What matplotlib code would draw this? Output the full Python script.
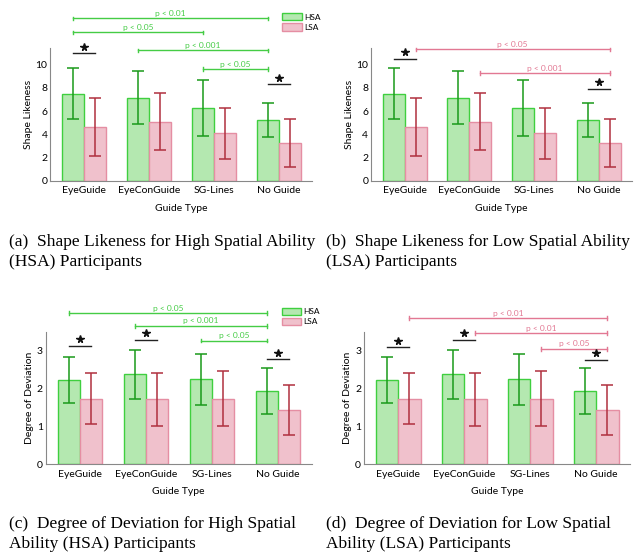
import matplotlib
matplotlib.use("Agg")
import matplotlib.pyplot as plt
from matplotlib.patches import Patch
import numpy as np

plt.rcParams['font.family'] = ['Lato', 'DejaVu Sans']

guides = ["EyeGuide", "EyeConGuide", "SG-Lines", "No Guide"]
groups = ["HSA", "LSA"]

# shape likeness (mean, sd), HSA / LSA
shape_hsa = [7.5, 7.15, 6.25, 5.25]
shape_hsa_sd = [2.2, 2.25, 2.4, 1.45]
shape_lsa = [4.6, 5.1, 4.1, 3.25]
shape_lsa_sd = [2.5, 2.45, 2.2, 2.05]

# degree of deviation (mean, sd)
dev_hsa = [2.23, 2.38, 2.25, 1.94]
dev_hsa_sd = [0.6, 0.64, 0.67, 0.62]
dev_lsa = [1.74, 1.72, 1.73, 1.44]
dev_lsa_sd = [0.67, 0.7, 0.73, 0.66]

# brackets: (guide_from, guide_to, series, label, level)
shape_hsa_brackets = [(0, 3, 0, "p < 0.01", 13.95), (0, 2, 0, "p < 0.05", 12.75),
                      (1, 3, 0, "p < 0.001", 11.2), (2, 3, 0, "p < 0.05", 9.6)]
shape_hsa_stars = [(0, 10.95), (3, 8.3)]
shape_lsa_brackets = [(0, 3, 1, "p < 0.05", 11.3), (1, 3, 1, "p < 0.001", 9.25)]
shape_lsa_stars = [(0, 10.5), (3, 7.9)]
dev_hsa_brackets = [(0, 3, 0, "p < 0.05", 4.0), (1, 3, 0, "p < 0.001", 3.66),
                    (2, 3, 0, "p < 0.05", 3.27)]
dev_hsa_stars = [(0, 3.13), (1, 3.3), (3, 2.78)]
dev_lsa_brackets = [(0, 3, 1, "p < 0.01", 3.87), (1, 3, 1, "p < 0.01", 3.47),
                    (2, 3, 1, "p < 0.05", 3.05)]
dev_lsa_stars = [(0, 3.1), (1, 3.29), (3, 2.76)]

GREEN_FACE = "#b4e8b0"
GREEN_EDGE = "#3fcf3f"
GREEN_ERR = "#1a9a1a"
PINK_FACE = "#f0c1cc"
PINK_EDGE = "#e58ea3"
PINK_ERR = "#b0303f"
BR_COLORS = ["#45cc45", "#e27893"]
W = 0.34


def draw_panel(ax, hsa, hsa_sd, lsa, lsa_sd, ylabel, ylim, yticks, brackets, stars, legend_y=None):
    x = np.arange(len(guides))
    ax.bar(x - W/2, hsa, W, color=GREEN_FACE, edgecolor=GREEN_EDGE, linewidth=1.0, label="HSA")
    ax.bar(x + W/2, lsa, W, color=PINK_FACE, edgecolor=PINK_EDGE, linewidth=1.0, label="LSA")
    ax.errorbar(x - W/2, hsa, yerr=hsa_sd, fmt="none", ecolor=GREEN_ERR, elinewidth=1.1, capsize=4, capthick=1.1)
    ax.errorbar(x + W/2, lsa, yerr=lsa_sd, fmt="none", ecolor=PINK_ERR, elinewidth=1.1, capsize=4, capthick=1.1)
    ax.set_xlim(-0.52, 3.51)
    ax.set_ylim(*ylim)
    ax.set_xticks(x)
    ax.set_xticklabels(guides, fontsize=7.5)
    ax.set_yticks(yticks)
    ax.tick_params(axis="y", labelsize=7.5, length=0, pad=2)
    ax.tick_params(axis="x", length=0, pad=4)
    ax.set_ylabel(ylabel, fontsize=7.5, labelpad=2)
    ax.set_xlabel("Guide Type", fontsize=7.5, labelpad=6)
    for s in ["top", "right"]:
        ax.spines[s].set_visible(False)
    for s in ["left", "bottom"]:
        ax.spines[s].set_color("#888888")
        ax.spines[s].set_linewidth(0.8)
    span = ylim[1] - ylim[0]
    for g0, g1, ser, lab, lev in brackets:
        off = -W/2 if ser == 0 else W/2
        c = BR_COLORS[ser]
        ax.plot([g0 + off, g1 + off], [lev, lev], color=c, lw=1.0, clip_on=False)
        for gx in (g0 + off, g1 + off):
            ax.plot([gx, gx], [lev - span*0.013, lev + span*0.013], color=c, lw=1.0, clip_on=False)
        ax.text((g0 + g1)/2 + off, lev + span*0.012, lab, color=c, fontsize=6,
                ha="center", va="bottom", clip_on=False)
    for g, lev in stars:
        ax.plot([g - W/2, g + W/2], [lev, lev], color="#222222", lw=1.0, clip_on=False)
        ax.plot([g], [lev + span*0.05], marker="*", markersize=5.5, color="#111111",
                linestyle="none", clip_on=False)
    if legend_y is not None:
        handles = [Patch(facecolor=GREEN_FACE, edgecolor=GREEN_EDGE, label="HSA"),
                   Patch(facecolor=PINK_FACE, edgecolor=PINK_EDGE, label="LSA")]
        ax.legend(handles=handles, loc="upper left", bbox_to_anchor=(0.875, legend_y), frameon=False,
                  fontsize=6, handlelength=2.3, handleheight=1.0, labelspacing=0.3,
                  handletextpad=0.3, borderaxespad=0)


fig = plt.figure(figsize=(6.44, 5.6), dpi=100)

ax_a = fig.add_axes([0.078, 0.677, 0.406, 0.237])
ax_b = fig.add_axes([0.576, 0.677, 0.405, 0.237])
ax_c = fig.add_axes([0.071, 0.171, 0.413, 0.236])
ax_d = fig.add_axes([0.565, 0.171, 0.413, 0.236])

draw_panel(ax_a, shape_hsa, shape_hsa_sd, shape_lsa, shape_lsa_sd, "Shape Likeness",
           (0, 11.4), [0, 2, 4, 6, 8, 10], shape_hsa_brackets, shape_hsa_stars, legend_y=1.29)
draw_panel(ax_b, shape_hsa, shape_hsa_sd, shape_lsa, shape_lsa_sd, "Shape Likeness",
           (0, 11.4), [0, 2, 4, 6, 8, 10], shape_lsa_brackets, shape_lsa_stars)
draw_panel(ax_c, dev_hsa, dev_hsa_sd, dev_lsa, dev_lsa_sd, "Degree of Deviation",
           (0, 3.5), [0, 1, 2, 3], dev_hsa_brackets, dev_hsa_stars, legend_y=1.21)
draw_panel(ax_d, dev_hsa, dev_hsa_sd, dev_lsa, dev_lsa_sd, "Degree of Deviation",
           (0, 3.5), [0, 1, 2, 3], dev_lsa_brackets, dev_lsa_stars)

captions = [
    (9, 234, "(a)  Shape Likeness for High Spatial Ability\n(HSA) Participants"),
    (326, 234, "(b)  Shape Likeness for Low Spatial Ability\n(LSA) Participants"),
    (9, 516, "(c)  Degree of Deviation for High Spatial\nAbility (HSA) Participants"),
    (326, 516, "(d)  Degree of Deviation for Low Spatial\nAbility (LSA) Participants"),
]
for px, py, txt in captions:
    fig.text(px/644, 1 - py/560, txt, fontsize=12.5, family=["Liberation Serif", "DejaVu Serif"],
             ha="left", va="top", linespacing=1.3)

fig.savefig("out.png", dpi=100)
